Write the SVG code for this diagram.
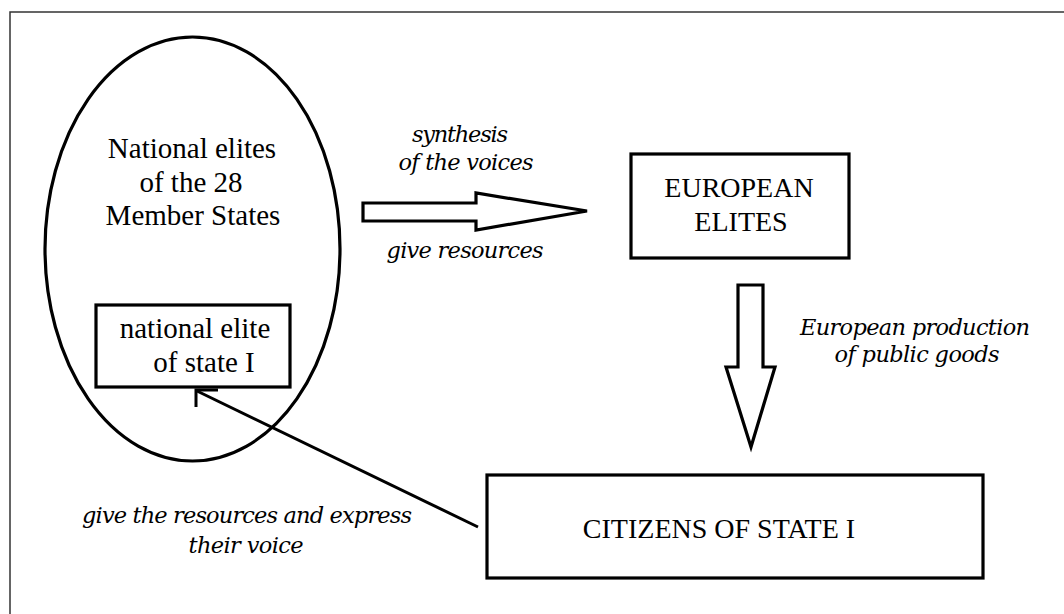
<svg xmlns="http://www.w3.org/2000/svg" width="1064" height="614" viewBox="0 0 1064 614">
<style>
.shape{fill:#fff;stroke:#000;stroke-width:3.2}
.t{font-family:"Liberation Serif","Times New Roman",serif;fill:#000;text-anchor:middle}
.it{font-family:"DejaVu Serif",serif;font-style:italic;font-size:22.5px;fill:#000;text-anchor:middle}
.conn{fill:none;stroke:#000;stroke-width:3}
</style>
<rect x="0" y="0" width="1064" height="614" fill="#fff"/>
<g id="frame">
<path d="M10 614 L10 12 L1064 12" fill="none" stroke="#333" stroke-width="1.5"/>
</g>
<g id="national-elites">
<ellipse class="shape" cx="192.5" cy="249" rx="147.5" ry="212"/>
<text class="t" font-size="29" x="192" y="158">National elites</text>
<text class="t" font-size="29" x="191" y="192">of the 28</text>
<text class="t" font-size="29" x="193" y="225">Member States</text>
</g>
<g id="national-elite-state-i">
<rect class="shape" x="96" y="305" width="194" height="82"/>
<text class="t" font-size="29" x="195" y="338">national elite</text>
<text class="t" font-size="29" x="204" y="372">of state I</text>
</g>
<g id="european-elites">
<rect class="shape" x="631" y="154" width="218" height="104"/>
<text class="t" font-size="28" x="739" y="197">EUROPEAN</text>
<text class="t" font-size="28" x="741" y="231">ELITES</text>
</g>
<g id="citizens">
<rect class="shape" x="487" y="475" width="496" height="103"/>
<text class="t" font-size="28" x="719" y="538">CITIZENS OF STATE I</text>
</g>
<g id="connectors">
<polygon class="shape" points="363,203 476,203 476,193 587,211 476,230 476,221 363,221"/>
<polygon class="shape" points="738,285 763,285 763,367 775,367 751,447 726,367 738,367"/>
<line class="conn" x1="478" y1="527" x2="197" y2="391"/>
<polyline class="conn" points="218,390 196,390 196,407"/>
<text class="it" x="460" y="142" textLength="96">synthesis</text>
<text class="it" x="466" y="170" textLength="135">of the voices</text>
<text class="it" x="465" y="258" textLength="157">give resources</text>
<text class="it" x="915" y="335" textLength="230">European production</text>
<text class="it" x="917" y="362" textLength="165">of public goods</text>
<text class="it" x="247" y="523" textLength="330">give the resources and express</text>
<text class="it" x="246" y="553" textLength="115">their voice</text>
</g>
</svg>
